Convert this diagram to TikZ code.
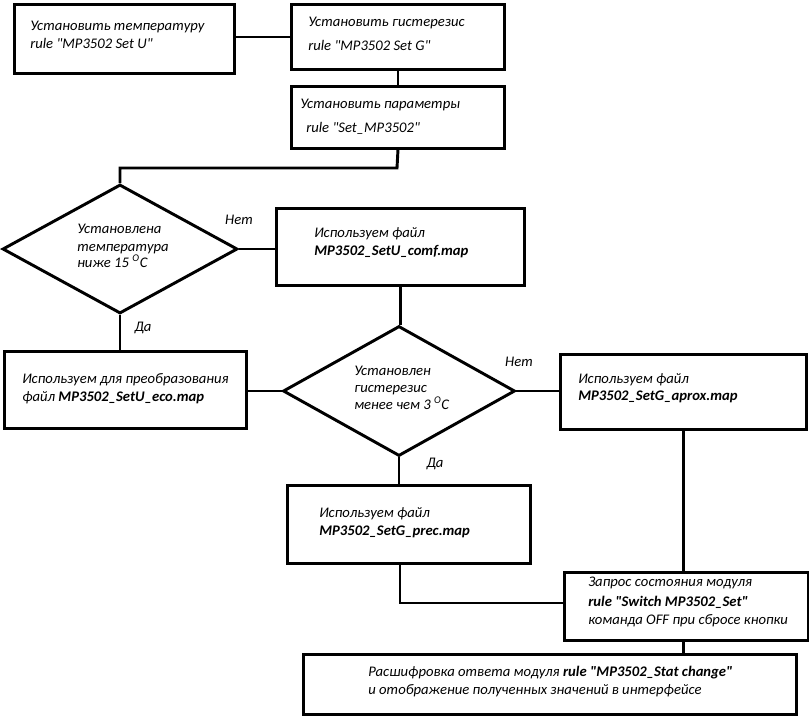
\documentclass[tikz,border=0pt]{standalone}
\usepackage{fontspec}
\newfontfamily\cf{Carlito}
\usetikzlibrary{shapes.geometric}
\begin{document}
\begin{tikzpicture}[x=0.75pt,y=-0.75pt,
  box/.style 2 args={draw, line width=2.2pt, rectangle, inner sep=0pt, anchor=north west,
    minimum width=#1*0.75pt, minimum height=#2*0.75pt},
  dia/.style 2 args={draw, line width=2.2pt, diamond, inner sep=0pt,
    minimum width=#1*0.75pt, minimum height=#2*0.75pt},
  txt/.style={anchor=base west, inner sep=0pt, font=\cf\fontsize{11}{13}\selectfont\itshape},
  lbl/.style={anchor=base, inner sep=0pt, font=\cf\fontsize{11}{13}\selectfont\itshape},
  conn/.style={line width=2.2pt}]
\fill[white] (0,0) rectangle (809,718);
\useasboundingbox (0,0) rectangle (809,718);

% boxes
\node[box={220}{69}] (A) at (13,3) {};
\node[box={213}{65}] (B) at (290,3) {};
\node[box={213}{62}] (C) at (290,85) {};
\node[dia={235}{129}] (D1) at (120,249) {};
\node[box={248}{77}] (D) at (275,207) {};
\node[box={242}{77}] (E) at (3,350) {};
\node[dia={232}{130}] (D2) at (399,391) {};
\node[box={246}{75}] (F) at (559,353) {};
\node[box={243}{78}] (G) at (286,484) {};
\node[box={244}{68}] (H) at (563,571) {};
\node[box={493}{60}] (I) at (302,653) {};

% texts
\node[txt] (tA1) at (30,30) {Установить температуру};
\node[txt] (tA2) at (30,48) {rule "MP3502 Set U"};
\node[txt] (tB1) at (308,26) {Установить гистерезис};
\node[txt] (tB2) at (308,50) {rule "MP3502 Set G"};
\node[txt] (tC1) at (300,108) {Установить параметры};
\node[txt] (tC2) at (306,132) {rule "Set\_MP3502"};
\node[txt] (tD11) at (77,233) {Установлена};
\node[txt] (tD12) at (77,251) {температура};
\node[txt] (tD13) at (77,267) {ниже 15 \textsuperscript{O}C};
\node[txt] (tD1) at (314,237) {Используем файл};
\node[txt] (tD2) at (314,255) {\textbf{MP3502\_SetU\_comf.map}};
\node[txt] (tE1) at (22,383) {Используем для преобразования};
\node[txt] (tE2) at (22,401) {файл \textbf{MP3502\_SetU\_eco.map}};
\node[txt] (tD21) at (354,375) {Установлен};
\node[txt] (tD22) at (354,392) {гистерезис};
\node[txt] (tD23) at (354,409) {менее чем 3 \textsuperscript{O}C};
\node[txt] (tF1) at (578,383) {Используем файл};
\node[txt] (tF2) at (578,400) {\textbf{MP3502\_SetG\_aprox.map}};
\node[txt] (tG1) at (319,517) {Используем файл};
\node[txt] (tG2) at (319,535) {\textbf{MP3502\_SetG\_prec.map}};
\node[txt] (tH1) at (588,586) {Запрос состояния модуля};
\node[txt] (tH2) at (588,606) {\textbf{rule "Switch MP3502\_Set"}};
\node[txt] (tH3) at (588,624) {команда OFF при сбросе кнопки};
\node[txt] (tI1) at (368,676) {Расшифровка ответа модуля \textbf{rule "MP3502\_Stat change"}};
\node[txt] (tI2) at (368,694) {и отображение полученных значений в интерфейсе};

% labels
\node[lbl] (n1) at (239,224) {Нет};
\node[lbl] (y1) at (143,331) {Да};
\node[lbl] (n2) at (519,366) {Нет};
\node[lbl] (y2) at (435,467) {Да};

% connectors
\coordinate (c1) at (397,168);
\coordinate (c2) at (400,603);
\draw[conn] (B.west) -- (B.west -| A.east);
\draw[conn] (B.south) -- (C.north);
\draw[conn] (C.south) -- (c1) -- (c1 -| D1.north) -- (D1.north);
\draw[conn] (D1.east) -- (D1.east -| D.west);
\draw[conn] (D.south) -- (D.south |- D2.north);
\draw[conn] (D1.south) -- (D1.south |- E.north);
\draw[conn] (D2.west) -- (D2.west -| E.east);
\draw[conn] (D2.east) -- (D2.east -| F.west);
\draw[conn] (D2.south) -- (D2.south |- G.north);
\draw[conn] (F.south) -- (F.south |- H.north);
\draw[conn] (c2 |- G.south) -- (c2) -- (c2 -| H.west);
\draw[conn] (F.south |- H.south) -- (F.south |- I.north);
\end{tikzpicture}
\end{document}
